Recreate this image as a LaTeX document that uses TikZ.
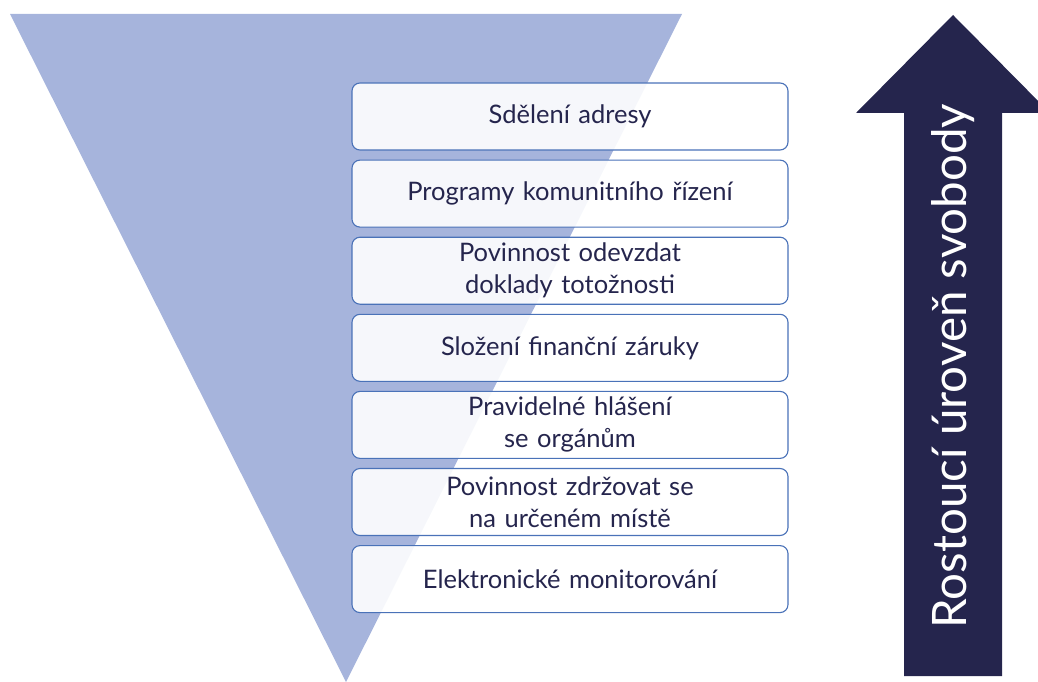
\documentclass[tikz,border=0pt]{standalone}
\usepackage{fontspec}
\setmainfont{Lato}
\usetikzlibrary{positioning}
\definecolor{funnel}{HTML}{A6B4DC}
\definecolor{navy}{HTML}{25254D}
\definecolor{rim}{HTML}{4A72B8}
\tikzset{
  level/.style={draw=rim, line width=1.1pt, fill=white, fill opacity=0.9,
    text opacity=1, rounded corners=8pt, minimum width=436pt,
    minimum height=67pt, text width=420pt, align=center, inner sep=0pt,
    text=navy, font=\fontsize{25.5}{32}\selectfont},
}
\begin{document}
\begin{tikzpicture}[x=1pt,y=1pt]
  \useasboundingbox (0,0) rectangle (1038,-682);
  % funnel
  \fill[funnel] (10,-14) -- (682,-14) -- (346,-682) -- cycle;
  % levels
  \node[level] (1) at (570,-116.5) {Sdělení adresy};
  \node[level, below=9pt of 1] (2) {Programy komunitního řízení};
  \node[level, below=9pt of 2] (3) {Povinnost odevzdat\\ doklady totožnosti};
  \node[level, below=9pt of 3] (4) {Složení finanční záruky};
  \node[level, below=9pt of 4] (5) {Pravidelné hlášení\\ se orgánům};
  \node[level, below=9pt of 5] (6) {Povinnost zdržovat se\\ na určeném místě};
  \node[level, below=9pt of 6] (7) {Elektronické monitorování};
  % arrow
  \fill[navy] (904,-676) -- (904,-113) -- (856,-113) -- (953,-15)
    -- (1050,-113) -- (1002,-113) -- (1002,-676) -- cycle;
  \node[rotate=90, text=white, font=\fontsize{47.5}{52}\selectfont]
    (free) at (953,-366) {Rostoucí úroveň svobody};
\end{tikzpicture}
\end{document}
